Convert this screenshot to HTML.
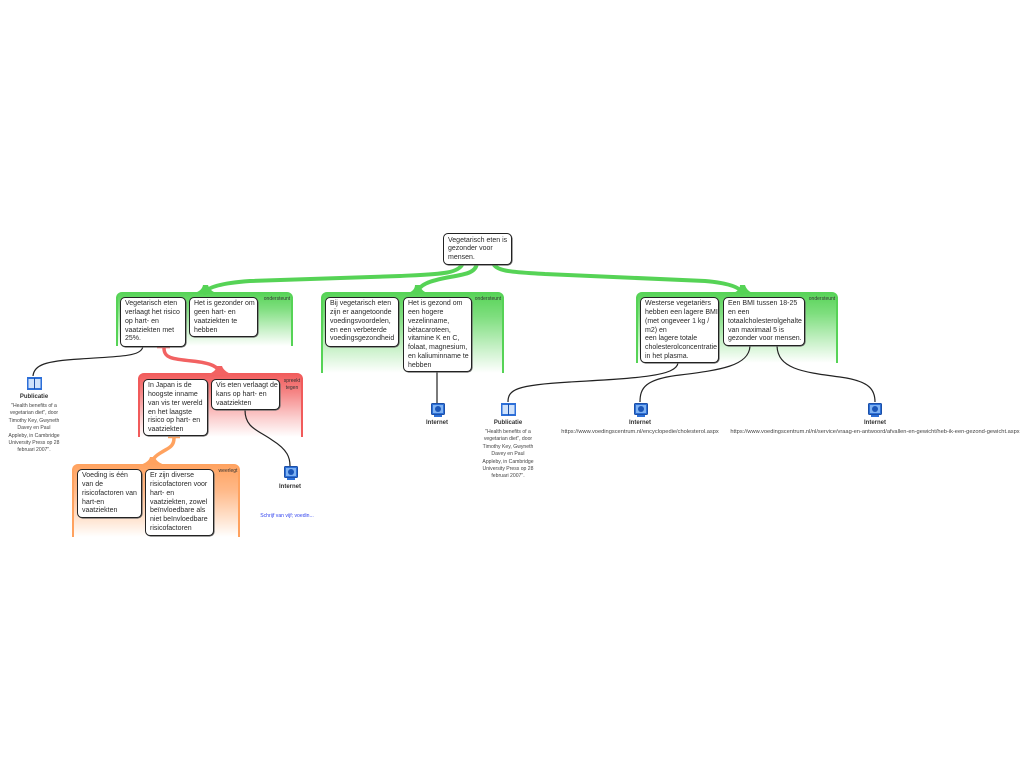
<!DOCTYPE html>
<html><head><meta charset="utf-8">
<style>
*{margin:0;padding:0;box-sizing:border-box}
body{width:1024px;height:768px;background:#fff;position:relative;overflow:hidden;font-family:"Liberation Sans",Arial,sans-serif;color:#2a2a2a}
.grp{position:absolute;border-radius:6px 6px 0 0}
.g{background:linear-gradient(#56d356 0%,#7ede7e 30%,#c9f1c9 70%,#fff 100%);border-left:2px solid #56d356;border-right:2px solid #56d356}
.r{background:linear-gradient(#f15b5b 0%,#f58585 30%,#fbcfcf 70%,#fff 100%);border-left:2px solid #f15b5b;border-right:2px solid #f15b5b}
.o{background:linear-gradient(#ffa25f 0%,#ffb887 35%,#ffe3cf 75%,#fff 100%);border-left:2px solid #ffa25f;border-right:2px solid #ffa25f}
.n{position:absolute;background:#fff;border:1px solid #222;border-radius:5px;box-shadow:0.6px 0.6px 0 #666;font-size:7px;line-height:8.8px;padding:2.2px 0 0 4px;white-space:nowrap;color:#2a2a2a}
.lab{position:absolute;font-size:5px;line-height:6.5px;color:#333;text-align:center;white-space:nowrap}
.c{position:absolute;width:200px;text-align:center;white-space:nowrap}
.t{font-size:6px;font-weight:bold;color:#333}
.d{font-size:5.1px;line-height:7.4px;color:#444}
.u{font-size:5.7px;line-height:7.4px;color:#444}
svg{position:absolute;left:0;top:0}
.ic{position:absolute}
</style></head><body>

<div class="grp g" style="left:116px;top:292px;width:177px;height:54px"></div>
<div class="grp g" style="left:321px;top:292px;width:183px;height:81px"></div>
<div class="grp g" style="left:636px;top:292px;width:202px;height:71px"></div>
<div class="grp r" style="left:138px;top:373px;width:165px;height:64px"></div>
<div class="grp o" style="left:72px;top:464px;width:168px;height:73px"></div>

<svg width="1024" height="768" viewBox="0 0 1024 768">
<g fill="none" stroke="#56d356" stroke-width="4" stroke-linecap="round">
<path d="M463,263 C459,274 440,274 400,276 L250,281 C222,283 207,287 205,293"/>
<path d="M477,263 C476,272 468,274 450,277 C428,281 419,285 417,293"/>
<path d="M493,263 C496,272 515,272 545,274 L705,281 C728,283 740,287 742,293"/>
</g>
<g fill="#56d356">
<path d="M190,294 Q202,292 203,285 L208,285 Q210,292 220,294 Z"/>
<path d="M404,294 Q415,292 415,285 L420,285 Q421,292 431,294 Z"/>
<path d="M729,294 Q740,292 740,285 L745,285 Q747,292 756,294 Z"/>
</g>
<path d="M164,348 C164,358 172,359 192,361 C212,363 219,367 220,374" fill="none" stroke="#f26262" stroke-width="3.5"/>
<path d="M206,375 Q216,372 217,366 L222,366 Q224,372 234,375 Z" fill="#f26262"/>
<line x1="157" y1="347.5" x2="170" y2="347.5" stroke="#f26262" stroke-width="1.5"/>
<path d="M174,438 C174,447 168,448 162,452 C155,456 152,459 152,465" fill="none" stroke="#ffa25f" stroke-width="3.5"/>
<path d="M140,465 Q149,462 150,457 L155,457 Q156,462 165,465 Z" fill="#ffa25f"/>
<line x1="168" y1="437.5" x2="180" y2="437.5" stroke="#ffa25f" stroke-width="1.5"/>
<g fill="none" stroke="#222" stroke-width="1.2">
<path d="M143,346 C142,357 120,356 80,359 C45,361 34,365 33,376"/>
<path d="M245,410 C245,428 258,430 272,440 C288,450 290,458 290,466"/>
<path d="M437,372 L437,403"/>
<path d="M678,363 C676,376 640,378 570,382 C515,385 508,390 508,402"/>
<path d="M750,346 C749,366 720,370 680,375 C645,379 640,388 640,402"/>
<path d="M777,346 C778,368 800,372 840,377 C870,381 875,390 875,402"/>
</g>
</svg>

<div class="n" style="left:443px;top:233px;width:69px;height:32px;padding-top:2.5px">Vegetarisch eten is<br>gezonder voor<br>mensen.</div>

<div class="n" style="left:120px;top:297px;width:66px;height:50px">Vegetarisch eten<br>verlaagt het risico<br>op hart- en<br>vaatziekten met<br>25%.</div>
<div class="n" style="left:189px;top:297px;width:69px;height:40px">Het is gezonder om<br>geen hart- en<br>vaatziekten te<br>hebben</div>
<div class="lab" style="left:261px;top:296px;width:32px">ondersteunt</div>

<div class="n" style="left:325px;top:297px;width:74px;height:50px">Bij vegetarisch eten<br>zijn er aangetoonde<br>voedingsvoordelen,<br>en een verbeterde<br>voedingsgezondheid</div>
<div class="n" style="left:403px;top:297px;width:69px;height:75px">Het is gezond om<br>een hogere<br>vezelinname,<br>bètacaroteen,<br>vitamine K en C,<br>folaat, magnesium,<br>en kaliuminname te<br>hebben</div>
<div class="lab" style="left:472px;top:296px;width:32px">ondersteunt</div>

<div class="n" style="left:640px;top:297px;width:79px;height:66px">Westerse vegetariërs<br>hebben een lagere BMI<br>(met ongeveer 1 kg /<br>m2) en<br>een lagere totale<br>cholesterolconcentratie<br>in het plasma.</div>
<div class="n" style="left:723px;top:297px;width:82px;height:49px">Een BMI tussen 18-25<br>en een<br>totaalcholesterolgehalte<br>van maximaal 5 is<br>gezonder voor mensen.</div>
<div class="lab" style="left:806px;top:296px;width:32px">ondersteunt</div>

<div class="n" style="left:143px;top:379px;width:65px;height:57px">In Japan is de<br>hoogste inname<br>van vis ter wereld<br>en het laagste<br>risico op hart- en<br>vaatziekten</div>
<div class="n" style="left:211px;top:379px;width:69px;height:31px">Vis eten verlaagt de<br>kans op hart- en<br>vaatziekten</div>
<div class="lab" style="left:281px;top:378px;width:22px">spreekt<br>tegen</div>

<div class="n" style="left:77px;top:469px;width:65px;height:49px">Voeding is één<br>van de<br>risicofactoren van<br>hart-en<br>vaatziekten</div>
<div class="n" style="left:145px;top:469px;width:69px;height:67px">Er zijn diverse<br>risicofactoren voor<br>hart- en<br>vaatziekten, zowel<br>beïnvloedbare als<br>niet beïnvloedbare<br>risicofactoren</div>
<div class="lab" style="left:216px;top:468px;width:24px">weerlegt</div>

<!-- icons -->
<svg class="ic" style="left:27px;top:377px" width="15" height="13" viewBox="0 0 15 13"><rect x="0" y="0" width="15" height="13" fill="#2d6fd8"/><rect x="1.5" y="2" width="5.5" height="9" fill="#cfe2fb"/><rect x="8" y="2" width="5.5" height="9" fill="#cfe2fb"/><rect x="7" y="1" width="1" height="11" fill="#1b4fa8"/></svg>
<div class="c t" style="left:-66px;top:394px">Publicatie</div>
<div class="c d" style="left:-66px;top:403px">"Health benefits of a<br>vegetarian diet", door<br>Timothy Key, Gwyneth<br>Davey en Paul<br>Appleby, in Cambridge<br>University Press op 28<br>februari 2007".</div>

<svg class="ic" style="left:501px;top:403px" width="15" height="13" viewBox="0 0 15 13"><rect x="0" y="0" width="15" height="13" fill="#2d6fd8"/><rect x="1.5" y="2" width="5.5" height="9" fill="#cfe2fb"/><rect x="8" y="2" width="5.5" height="9" fill="#cfe2fb"/><rect x="7" y="1" width="1" height="11" fill="#1b4fa8"/></svg>
<div class="c t" style="left:408px;top:420px">Publicatie</div>
<div class="c d" style="left:408px;top:429px">"Health benefits of a<br>vegetarian diet", door<br>Timothy Key, Gwyneth<br>Davey en Paul<br>Appleby, in Cambridge<br>University Press op 28<br>februari 2007".</div>

<svg class="ic" style="left:431px;top:403px" width="14" height="14" viewBox="0 0 14 14"><rect x="0.5" y="0.5" width="13" height="11" rx="1" fill="#2c6fd6" stroke="#1b4fa8"/><rect x="2" y="2" width="10" height="8" fill="#7fb2f2"/><circle cx="7" cy="6" r="3" fill="#1b56b8"/><rect x="3" y="12" width="8" height="2" fill="#2c6fd6"/></svg>
<div class="c t" style="left:337px;top:420px">Internet</div>

<svg class="ic" style="left:634px;top:403px" width="14" height="14" viewBox="0 0 14 14"><rect x="0.5" y="0.5" width="13" height="11" rx="1" fill="#2c6fd6" stroke="#1b4fa8"/><rect x="2" y="2" width="10" height="8" fill="#7fb2f2"/><circle cx="7" cy="6" r="3" fill="#1b56b8"/><rect x="3" y="12" width="8" height="2" fill="#2c6fd6"/></svg>
<div class="c t" style="left:540px;top:420px">Internet</div>
<div class="c u" style="left:540px;top:429px">https://www.voedingscentrum.nl/encyclopedie/cholesterol.aspx</div>

<svg class="ic" style="left:868px;top:403px" width="14" height="14" viewBox="0 0 14 14"><rect x="0.5" y="0.5" width="13" height="11" rx="1" fill="#2c6fd6" stroke="#1b4fa8"/><rect x="2" y="2" width="10" height="8" fill="#7fb2f2"/><circle cx="7" cy="6" r="3" fill="#1b56b8"/><rect x="3" y="12" width="8" height="2" fill="#2c6fd6"/></svg>
<div class="c t" style="left:775px;top:420px">Internet</div>
<div class="c u" style="left:675px;top:429px;width:400px">https://www.voedingscentrum.nl/nl/service/vraag-en-antwoord/afvallen-en-gewicht/heb-ik-een-gezond-gewicht.aspx</div>

<svg class="ic" style="left:284px;top:466px" width="14" height="14" viewBox="0 0 14 14"><rect x="0.5" y="0.5" width="13" height="11" rx="1" fill="#2c6fd6" stroke="#1b4fa8"/><rect x="2" y="2" width="10" height="8" fill="#7fb2f2"/><circle cx="7" cy="6" r="3" fill="#1b56b8"/><rect x="3" y="12" width="8" height="2" fill="#2c6fd6"/></svg>
<div class="c t" style="left:190px;top:484px">Internet</div>
<div class="c d" style="left:187px;top:513px;color:#3344ee">Schrijf van vijf; voedin...</div>

</body></html>
